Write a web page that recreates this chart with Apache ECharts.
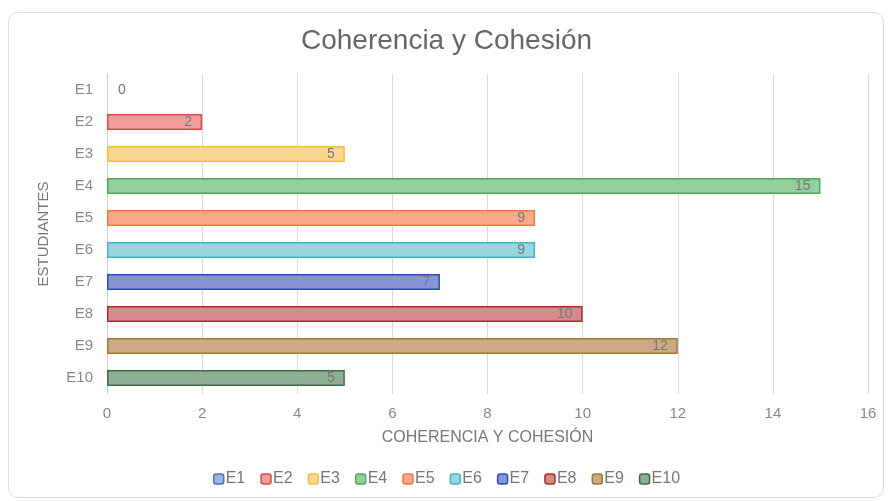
<!DOCTYPE html>
<html>
<head>
<meta charset="utf-8">
<script src="https://cdn.jsdelivr.net/npm/echarts@6/dist/echarts.min.js"></script>
<style>
  html, body { margin: 0; padding: 0; background: #fff; }
  .frame {
    position: absolute; left: 8px; top: 12px; width: 876px; height: 486px;
    border: 1px solid #dcdcdc; border-radius: 10px; box-sizing: border-box;
  }
  #chart { width: 893px; height: 501px; }
</style>
</head>
<body>
<div class="frame"></div>
<div id="chart"></div>
<script>
  const students = ['E1', 'E2', 'E3', 'E4', 'E5', 'E6', 'E7', 'E8', 'E9', 'E10'];
  const scores = [0, 2, 5, 15, 9, 9, 7, 10, 12, 5];
  const borderColors = ['#4472c4', '#e04848', '#f2bf3c', '#4fa85c', '#f07a3a', '#40b6c6', '#2f4fb0', '#a82e2e', '#9c7c2c', '#3f6b4a'];
  const fillColors = ['#9db4e2', '#f29c9c', '#fdd58c', '#93d09b', '#fba98a', '#98d6e0', '#8894d8', '#d88a8a', '#c9aa84', '#8eaf93'];
  const xTicks = [0, 2, 4, 6, 8, 10, 12, 14, 16];

  const chart = echarts.init(document.getElementById('chart'));

  const series = students.map((name, i) => ({
    name: name,
    type: 'bar',
    stack: 'total',
    barWidth: 16,
    data: students.map((s, j) => (j === i ? scores[i] : '-')),
    itemStyle: {
      color: fillColors[i],
      borderColor: borderColors[i],
      // a zero bar shows no outline in the original
      borderWidth: scores[i] === 0 ? 0 : 1.5
    },
    label: {
      show: true,
      position: scores[i] === 0 ? 'right' : 'insideRight',
      distance: scores[i] === 0 ? 11 : 10,
      color: '#777',
      fontSize: 14,
      fontFamily: 'Liberation Sans'
    }
  }));

  // legend icons always keep their outline
  const legendData = students.map((name, i) => ({
    name: name,
    itemStyle: { color: fillColors[i], borderColor: borderColors[i], borderWidth: 1.5 }
  }));

  chart.setOption({
    animation: false,
    textStyle: { fontFamily: 'Liberation Sans' },
    title: {
      text: 'Coherencia y Cohesión',
      left: 'center',
      top: 22,
      textStyle: { fontSize: 28, fontWeight: 'normal', color: '#666' }
    },
    legend: {
      bottom: 9,
      left: 'center',
      itemWidth: 10,
      itemHeight: 10,
      itemGap: 15,
      textStyle: { color: '#777', fontSize: 16, padding: [0, 0, 0, -3] },
      data: legendData
    },
    grid: { left: 107, right: 25, top: 74, bottom: 107 },
    xAxis: {
      type: 'value',
      min: xTicks[0],
      max: xTicks[xTicks.length - 1],
      interval: 2,
      name: 'COHERENCIA Y COHESIÓN',
      nameLocation: 'middle',
      nameGap: 36,
      nameTextStyle: { color: '#777', fontSize: 16 },
      axisLabel: { color: '#888', fontSize: 15, margin: 12 },
      axisLine: { show: false },
      axisTick: { show: false },
      splitLine: { lineStyle: { color: '#dadada', width: 1 } }
    },
    yAxis: {
      type: 'category',
      data: students,
      inverse: true,
      name: 'ESTUDIANTES',
      nameLocation: 'middle',
      nameRotate: 90,
      nameGap: 56,
      nameTextStyle: { color: '#777', fontSize: 15 },
      axisLabel: { color: '#888', fontSize: 15, margin: 14 },
      axisLine: { show: true, lineStyle: { color: '#d0d0d0' } },
      axisTick: { show: false }
    },
    series: series
  });
</script>
</body>
</html>
